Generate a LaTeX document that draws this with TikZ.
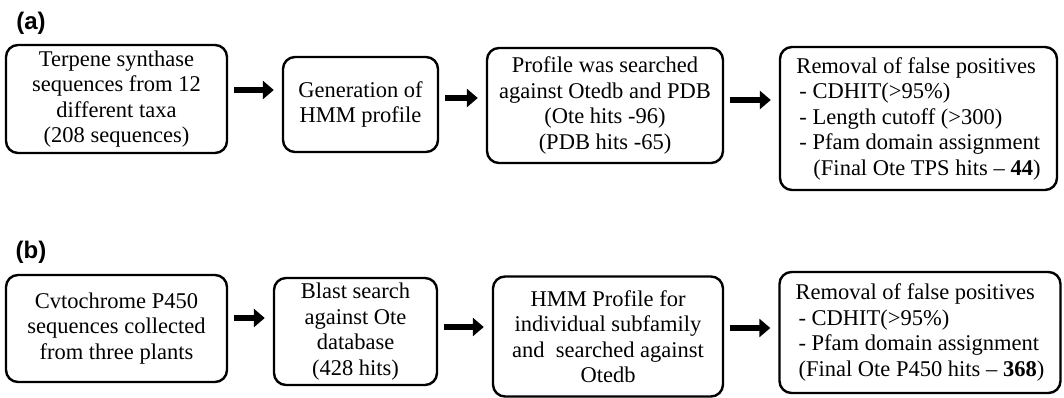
\documentclass[tikz,border=0pt]{standalone}
\usepackage{fontspec}
\setmainfont{Liberation Serif}
\newfontfamily\panelfont{Liberation Sans}
\usetikzlibrary{arrows.meta}

\tikzset{
  stepbox/.style={draw, line width=2.4pt, rounded corners=12pt, align=center,
    inner sep=4pt, font=\fontsize{22.5}{25.5}\selectfont},
  flow/.style={line width=6.5pt, -{Triangle[length=11pt,width=18pt]},
    shorten <=6pt, shorten >=8pt},
  panel/.style={font=\panelfont\bfseries\fontsize{24}{27}\selectfont}
}

\begin{document}
\begin{tikzpicture}[x=1pt, y=-1pt]
  \useasboundingbox (0,0) rectangle (1064,398);

  \node[panel] (pa) at (31,23) {(a)};
  \node[stepbox, minimum width=221pt, minimum height=108pt] (a1) at (116.5,99)
    {Terpene synthase\\sequences from 12\\different taxa\\(208 sequences)};
  \node[stepbox, minimum width=155pt, minimum height=95pt] (a2) at (360.5,104.5)
    {Generation of\\HMM profile};
  \node[stepbox, minimum width=236pt, minimum height=115pt] (a3) at (605,105.5)
    {Profile was searched\\against Otedb and PDB\\(Ote hits -96)\\(PDB hits -65)};
  \node[stepbox, align=left, minimum width=277pt, minimum height=143pt] (a4) at (918.5,118.5)
    {Removal of false positives\\
     \hspace*{3pt}- CDHIT(>95\%)\\
     \hspace*{3pt}- Length cutoff (>300)\\
     \hspace*{3pt}- Pfam domain assignment\\
     \hspace*{17pt}(Final Ote TPS hits -- \textbf{44})};
  \draw[flow] (a1.east |- 0,90) -- (a2.west |- 0,90);
  \draw[flow] (a2.east |- 0,98) -- (a3.west |- 0,98);
  \draw[flow] (a3.east |- 0,100) -- (a4.west |- 0,100);

  \node[panel] (pb) at (31,252) {(b)};
  \node[stepbox, minimum width=221pt, minimum height=107pt] (b1) at (116.5,328.5)
    {Cvtochrome P450\\sequences collected\\from three plants};
  \node[stepbox, minimum width=163pt, minimum height=107pt] (b2) at (355.5,331.5)
    {Blast search\\against Ote\\database\\(428 hits)};
  \node[stepbox, minimum width=230pt, minimum height=120pt] (b3) at (608,336.5)
    {HMM Profile for\\individual subfamily\\and\ \ searched against\\Otedb};
  \node[stepbox, align=left, minimum width=281pt, minimum height=121pt] (b4) at (920,332.5)
    {Removal of false positives\\
     \hspace*{3pt}- CDHIT(>95\%)\\
     \hspace*{3pt}- Pfam domain assignment\\
     \hspace*{3pt}(Final Ote P450 hits -- \textbf{368})};
  \draw[flow] (b1.east |- 0,318) -- (b2.west |- 0,318);
  \draw[flow] (b2.east |- 0,327) -- (b3.west |- 0,327);
  \draw[flow] (b3.east |- 0,328) -- (b4.west |- 0,328);
\end{tikzpicture}
\end{document}
